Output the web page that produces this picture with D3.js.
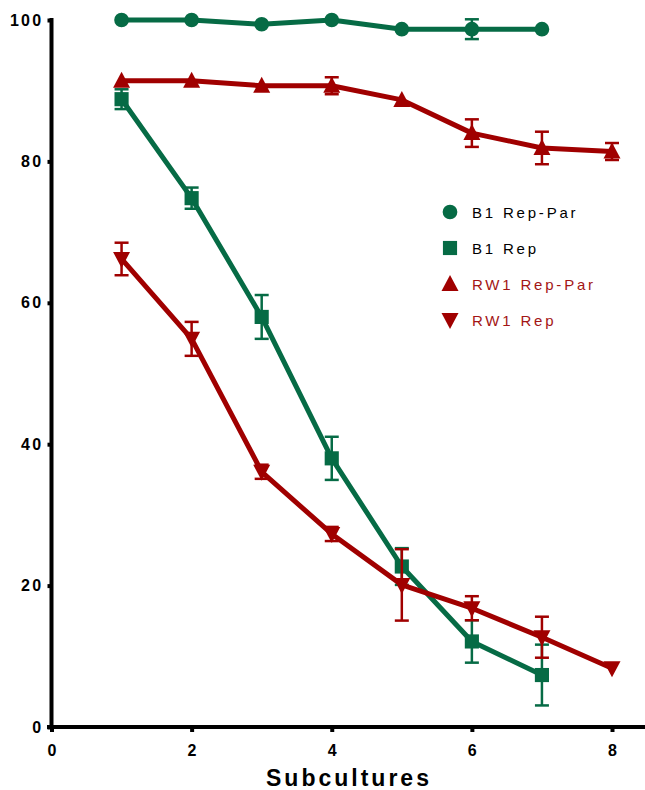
<!DOCTYPE html>
<html>
<head>
<meta charset="utf-8">
<script src="https://cdn.jsdelivr.net/npm/d3@7"></script>
<style>
  body { margin: 0; background: #fff; }
  svg { display: block; font-family: Arial, 'Liberation Sans', sans-serif; }
  .axis path, .axis line { stroke: #000; }
  .axis text { font-weight: bold; font-size: 16px; letter-spacing: 2.3px; fill: #000; }
</style>
</head>
<body>
<svg width="645" height="790"></svg>
<script>
const subcultures = [1, 2, 3, 4, 5, 6, 7, 8];
const xTicks = [0, 2, 4, 6, 8];
const yTicks = [0, 20, 40, 60, 80, 100];

const seriesNames = ['B1 Rep-Par', 'B1 Rep', 'RW1 Rep-Par', 'RW1 Rep'];
const b1RepPar = [100, 100, 99.4, 100, 98.7, 98.7, 98.7];
const b1RepParErr = [0, 0, 0, 0, 0, 1.4, 0];
const b1Rep = [88.8, 74.8, 58.0, 38.0, 22.7, 12.1, 7.35];
const b1RepErr = [1.4, 1.5, 3.1, 3.05, 2.6, 3.0, 4.3];
const rw1RepPar = [91.4, 91.4, 90.7, 90.7, 88.7, 84.0, 81.9, 81.4];
const rw1RepParErr = [0, 0, 0, 1.2, 0, 1.95, 2.3, 1.2];
const rw1Rep = [66.2, 54.9, 36.1, 27.3, 20.1, 16.8, 12.7, 8.3];
const rw1RepErr = [2.3, 2.4, 1.0, 1.0, 5.05, 1.7, 2.9, 0];

const green = '#066b45';
const red = '#a00000';

const svg = d3.select('svg');
const x = d3.scaleLinear().domain([0, 8]).range([51.5, 612]);
const y = d3.scaleLinear().domain([0, 100]).range([727, 20]);

// axes
const yAxis = svg.append('g')
  .attr('class', 'axis')
  .attr('transform', 'translate(' + x(0) + ',0)')
  .call(d3.axisLeft(y).tickValues(yTicks).tickSize(4).tickPadding(4));
yAxis.select('.domain').remove();
yAxis.selectAll('line').attr('stroke-width', 4);
svg.append('line')
  .attr('x1', x(0)).attr('x2', x(0))
  .attr('y1', y(100) - 2).attr('y2', y(0) + 2)
  .attr('stroke', '#000').attr('stroke-width', 4);

const xAxis = svg.append('g')
  .attr('class', 'axis')
  .attr('transform', 'translate(0,' + y(0) + ')')
  .call(d3.axisBottom(x).tickValues(xTicks).tickSize(5).tickPadding(13));
xAxis.select('.domain').remove();
xAxis.selectAll('line').attr('stroke-width', 4);
xAxis.selectAll('text').attr('dx', '1px');
svg.append('line')
  .attr('x1', 47).attr('x2', 645)
  .attr('y1', y(0)).attr('y2', y(0))
  .attr('stroke', '#000').attr('stroke-width', 4);

svg.append('text')
  .attr('x', 349).attr('y', 786)
  .attr('text-anchor', 'middle')
  .style('font-weight', 'bold')
  .style('font-size', '23px')
  .style('letter-spacing', '3px')
  .text('Subcultures');

// series
const series = [
  { name: seriesNames[0], values: b1RepPar, err: b1RepParErr, color: green, shape: 'circle', text: '#000' },
  { name: seriesNames[1], values: b1Rep, err: b1RepErr, color: green, shape: 'square', text: '#000' },
  { name: seriesNames[2], values: rw1RepPar, err: rw1RepParErr, color: red, shape: 'up', text: '#a31515' },
  { name: seriesNames[3], values: rw1Rep, err: rw1RepErr, color: red, shape: 'down', text: '#a31515' }
];

function markerPath(shape) {
  if (shape === 'circle') return d3.symbol(d3.symbolCircle, 170)();
  if (shape === 'square') return d3.symbol(d3.symbolSquare, 200)();
  if (shape === 'up') return 'M0,-9L8.5,7H-8.5Z';
  return 'M0,9L8.5,-7H-8.5Z';
}

const line = d3.line()
  .x(function (d) { return x(d.x); })
  .y(function (d) { return y(d.y); });

const drawOrder = [1, 3, 2, 0];
drawOrder.forEach(function (k) {
  const s = series[k];
  const pts = s.values.map(function (v, i) {
    return { x: subcultures[i], y: v, e: s.err[i] };
  });
  const g = svg.append('g');

  // error bars
  const eb = g.selectAll('.err')
    .data(pts.filter(function (d) { return d.e > 0; }))
    .enter().append('g')
    .attr('stroke', s.color).attr('stroke-width', 2.5);
  eb.append('line')
    .attr('x1', function (d) { return x(d.x); })
    .attr('x2', function (d) { return x(d.x); })
    .attr('y1', function (d) { return y(d.y + d.e); })
    .attr('y2', function (d) { return y(d.y - d.e); });
  [1, -1].forEach(function (sign) {
    eb.append('line')
      .attr('x1', function (d) { return x(d.x) - 7; })
      .attr('x2', function (d) { return x(d.x) + 7; })
      .attr('y1', function (d) { return y(d.y + sign * d.e); })
      .attr('y2', function (d) { return y(d.y + sign * d.e); });
  });

  g.append('path')
    .datum(pts)
    .attr('fill', 'none')
    .attr('stroke', s.color)
    .attr('stroke-width', 5)
    .attr('stroke-linejoin', 'round')
    .attr('d', line);

  g.selectAll('.mark')
    .data(pts)
    .enter().append('path')
    .attr('transform', function (d) { return 'translate(' + x(d.x) + ',' + y(d.y) + ')'; })
    .attr('d', markerPath(s.shape))
    .attr('fill', s.color);
});

// legend
const legend = svg.append('g').attr('transform', 'translate(450,212)');
const legG = legend.selectAll('g')
  .data(series)
  .enter().append('g')
  .attr('transform', function (d, i) { return 'translate(0,' + i * 36 + ')'; });
legG.append('path')
  .attr('d', function (d) { return markerPath(d.shape); })
  .attr('fill', function (d) { return d.color; });
legG.append('text')
  .attr('x', 22).attr('y', 6)
  .style('font-size', '15px')
  .style('letter-spacing', '2.8px')
  .attr('fill', function (d) { return d.text; })
  .text(function (d) { return d.name; });
</script>
</body>
</html>
